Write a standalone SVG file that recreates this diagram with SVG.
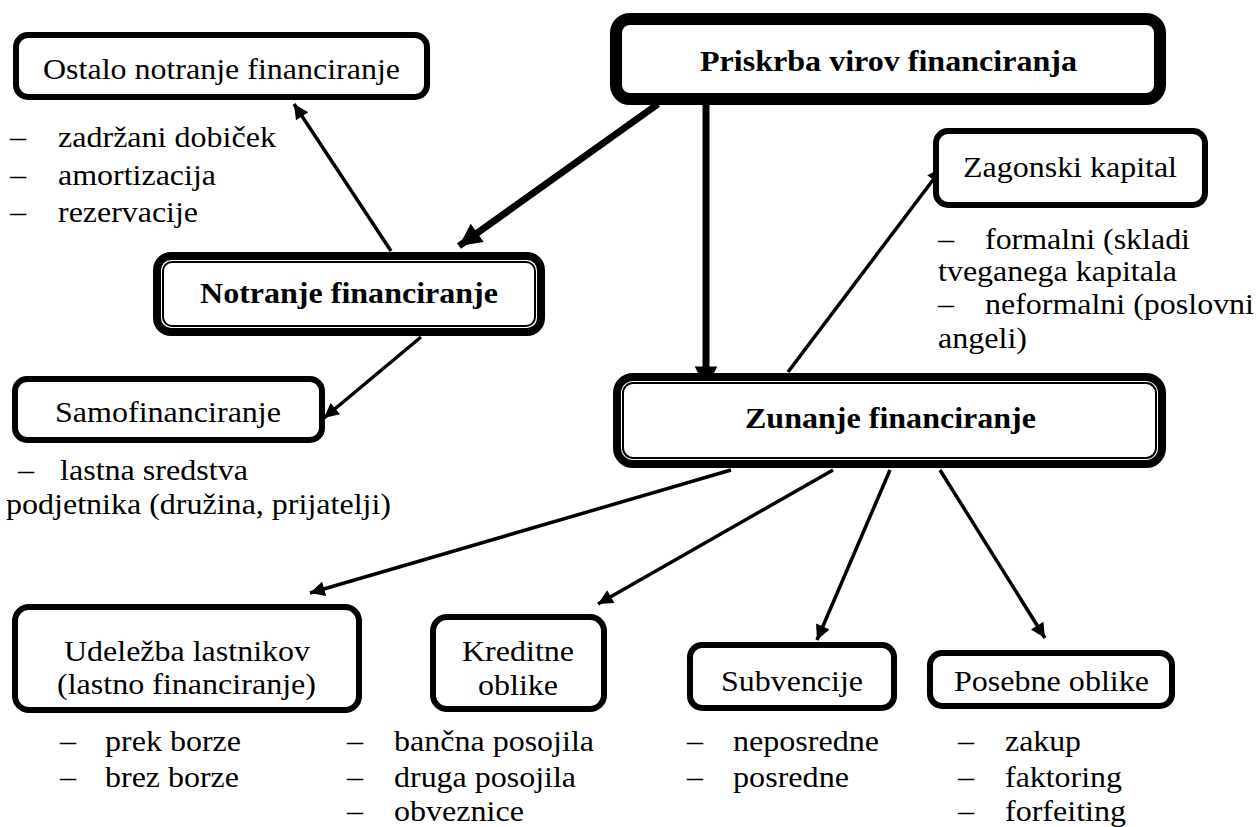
<svg xmlns="http://www.w3.org/2000/svg" width="1256" height="827" viewBox="0 0 1256 827">
<style>
text{font-family:"Liberation Serif","Times New Roman","DejaVu Serif",serif;font-size:29px;fill:#000}
.b{font-weight:bold}
.box{fill:#fff;stroke:#000;stroke-width:6}
.dbl{fill:#fff;stroke:#000;stroke-width:8}
.inner{fill:none;stroke:#000;stroke-width:2}
.thin{stroke:#000;stroke-width:3.5;fill:none}
.thick{stroke:#000;stroke-width:7;fill:none}
</style>
<defs>
<marker id="ah" viewBox="0 0 10 10" refX="10" refY="5" markerWidth="5.5" markerHeight="4.2" markerUnits="strokeWidth" orient="auto"><path d="M0,0L10,5L0,10z" fill="#000"/></marker>
<marker id="ahb" viewBox="0 0 10 10" refX="10" refY="5" markerWidth="3.5" markerHeight="3.2" markerUnits="strokeWidth" orient="auto"><path d="M0,0L10,5L0,10z" fill="#000"/></marker>
</defs>
<rect width="1256" height="827" fill="#fff"/>
<g id="connectors">
<line class="thick" x1="658" y1="104" x2="459" y2="246" marker-end="url(#ahb)"/>
<line class="thick" x1="706" y1="105" x2="706" y2="389" marker-end="url(#ahb)"/>
<line class="thin" x1="391" y1="251" x2="294" y2="104" marker-end="url(#ah)"/>
<line class="thin" x1="421" y1="337" x2="324" y2="418" marker-end="url(#ah)"/>
<line class="thin" x1="788" y1="372" x2="942" y2="168" marker-end="url(#ah)"/>
<line class="thin" x1="731" y1="470" x2="310" y2="593" marker-end="url(#ah)"/>
<line class="thin" x1="833" y1="470" x2="598" y2="604" marker-end="url(#ah)"/>
<line class="thin" x1="890" y1="470" x2="817" y2="640" marker-end="url(#ah)"/>
<line class="thin" x1="940" y1="470" x2="1045" y2="638" marker-end="url(#ah)"/>
</g>
<g id="priskrba">
<rect x="616" y="19" width="544" height="80" rx="14" fill="#fff" stroke="#000" stroke-width="12"/>
<text class="b" x="700" y="71" textLength="377" lengthAdjust="spacingAndGlyphs">Priskrba virov financiranja</text>
</g>
<g id="ostalo">
<rect class="box" x="16" y="35" width="411" height="62" rx="12"/>
<text x="43" y="79" textLength="357" lengthAdjust="spacingAndGlyphs">Ostalo notranje financiranje</text>
<text x="10" y="147" textLength="16" lengthAdjust="spacingAndGlyphs">–</text><text x="58" y="147" textLength="218" lengthAdjust="spacingAndGlyphs">zadržani dobiček</text>
<text x="10" y="185" textLength="16" lengthAdjust="spacingAndGlyphs">–</text><text x="58" y="185" textLength="158" lengthAdjust="spacingAndGlyphs">amortizacija</text>
<text x="10" y="222" textLength="16" lengthAdjust="spacingAndGlyphs">–</text><text x="58" y="222" textLength="140" lengthAdjust="spacingAndGlyphs">rezervacije</text>
</g>
<g id="notranje">
<rect class="dbl" x="157" y="256" width="384" height="76" rx="14"/>
<rect class="inner" x="163" y="262" width="372" height="64" rx="9"/>
<text class="b" x="200" y="303" textLength="298" lengthAdjust="spacingAndGlyphs">Notranje financiranje</text>
</g>
<g id="samofinanciranje">
<rect class="box" x="15" y="379" width="307" height="61" rx="12"/>
<text x="55" y="422" textLength="226" lengthAdjust="spacingAndGlyphs">Samofinanciranje</text>
<text x="18" y="480" textLength="16" lengthAdjust="spacingAndGlyphs">–</text><text x="60" y="480" textLength="188" lengthAdjust="spacingAndGlyphs">lastna sredstva</text>
<text x="6" y="514" textLength="385" lengthAdjust="spacingAndGlyphs">podjetnika (družina, prijatelji)</text>
</g>
<g id="zagonski">
<rect class="box" x="936" y="131" width="269" height="74" rx="12"/>
<text x="963" y="177" textLength="214" lengthAdjust="spacingAndGlyphs">Zagonski kapital</text>
<text x="938" y="249" textLength="16" lengthAdjust="spacingAndGlyphs">–</text><text x="985" y="249" textLength="205" lengthAdjust="spacingAndGlyphs">formalni (skladi</text>
<text x="938" y="281" textLength="239" lengthAdjust="spacingAndGlyphs">tveganega kapitala</text>
<text x="938" y="314" textLength="16" lengthAdjust="spacingAndGlyphs">–</text><text x="985" y="314" textLength="269" lengthAdjust="spacingAndGlyphs">neformalni (poslovni</text>
<text x="938" y="348" textLength="89" lengthAdjust="spacingAndGlyphs">angeli)</text>
</g>
<g id="zunanje">
<rect class="dbl" x="617" y="377" width="545" height="87" rx="16"/>
<rect class="inner" x="623" y="383" width="533" height="75" rx="10"/>
<text class="b" x="745" y="428" textLength="291" lengthAdjust="spacingAndGlyphs">Zunanje financiranje</text>
</g>
<g id="udelezba">
<rect class="box" x="15" y="607" width="344" height="103" rx="14"/>
<text x="64" y="661" textLength="246" lengthAdjust="spacingAndGlyphs">Udeležba lastnikov</text>
<text x="57" y="694" textLength="259" lengthAdjust="spacingAndGlyphs">(lastno financiranje)</text>
<text x="60" y="751" textLength="16" lengthAdjust="spacingAndGlyphs">–</text><text x="105" y="751" textLength="136" lengthAdjust="spacingAndGlyphs">prek borze</text>
<text x="60" y="787" textLength="16" lengthAdjust="spacingAndGlyphs">–</text><text x="105" y="787" textLength="134" lengthAdjust="spacingAndGlyphs">brez borze</text>
</g>
<g id="kreditne">
<rect class="box" x="433" y="617" width="171" height="92" rx="14"/>
<text x="462" y="661" textLength="112" lengthAdjust="spacingAndGlyphs">Kreditne</text>
<text x="478" y="695" textLength="80" lengthAdjust="spacingAndGlyphs">oblike</text>
<text x="347" y="751" textLength="16" lengthAdjust="spacingAndGlyphs">–</text><text x="394" y="751" textLength="200" lengthAdjust="spacingAndGlyphs">bančna posojila</text>
<text x="347" y="787" textLength="16" lengthAdjust="spacingAndGlyphs">–</text><text x="394" y="787" textLength="182" lengthAdjust="spacingAndGlyphs">druga posojila</text>
<text x="347" y="821" textLength="16" lengthAdjust="spacingAndGlyphs">–</text><text x="394" y="821" textLength="130" lengthAdjust="spacingAndGlyphs">obveznice</text>
</g>
<g id="subvencije">
<rect class="box" x="690" y="645" width="204" height="63" rx="12"/>
<text x="721" y="691" textLength="142" lengthAdjust="spacingAndGlyphs">Subvencije</text>
<text x="687" y="751" textLength="16" lengthAdjust="spacingAndGlyphs">–</text><text x="733" y="751" textLength="146" lengthAdjust="spacingAndGlyphs">neposredne</text>
<text x="687" y="787" textLength="16" lengthAdjust="spacingAndGlyphs">–</text><text x="733" y="787" textLength="116" lengthAdjust="spacingAndGlyphs">posredne</text>
</g>
<g id="posebne">
<rect class="box" x="930" y="653" width="242" height="53" rx="12"/>
<text x="954" y="691" textLength="195" lengthAdjust="spacingAndGlyphs">Posebne oblike</text>
<text x="958" y="751" textLength="16" lengthAdjust="spacingAndGlyphs">–</text><text x="1005" y="751" textLength="76" lengthAdjust="spacingAndGlyphs">zakup</text>
<text x="958" y="787" textLength="16" lengthAdjust="spacingAndGlyphs">–</text><text x="1005" y="787" textLength="117" lengthAdjust="spacingAndGlyphs">faktoring</text>
<text x="958" y="821" textLength="16" lengthAdjust="spacingAndGlyphs">–</text><text x="1005" y="821" textLength="121" lengthAdjust="spacingAndGlyphs">forfeiting</text>
</g>
</svg>
